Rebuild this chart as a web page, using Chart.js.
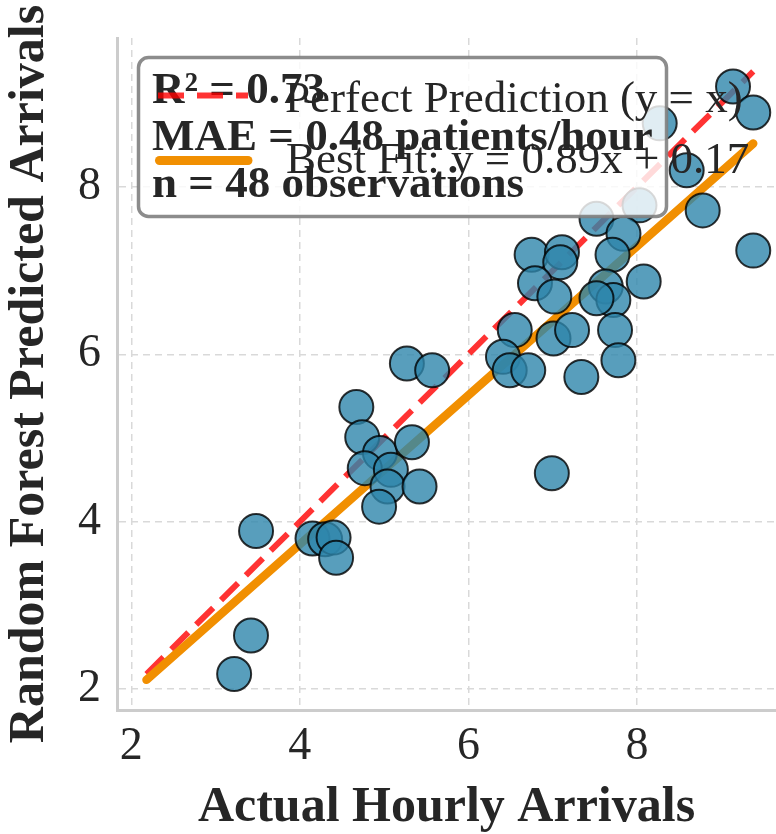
<!DOCTYPE html>
<html>
<head>
<meta charset="utf-8">
<script src="https://cdn.jsdelivr.net/npm/chart.js@4.4.1/dist/chart.umd.min.js"></script>
<style>
  html, body { margin: 0; padding: 0; background: #fff; overflow: hidden; }
  canvas { display: block; }
</style>
</head>
<body>
<canvas id="c" width="776" height="834"></canvas>
<script>
// ---- data ----
const actual = [3.48, 3.42, 3.22, 4.15, 4.30, 4.40, 4.43,
  5.27, 5.57, 4.67, 4.74, 4.95, 5.33, 4.77, 5.08, 5.04, 5.42, 4.94,
  6.75, 7.11, 7.09, 6.79, 7.02, 7.52, 8.03, 7.84, 7.71, 8.78,
  9.38, 8.08, 7.63, 7.72, 7.52, 6.55, 6.41, 6.49, 6.71, 7.01,
  7.23, 7.74, 7.78, 7.34, 8.59, 9.14, 9.38, 8.27, 6.99];
const predicted = [3.89, 2.64, 2.18, 3.80, 3.79, 3.81, 3.57,
  5.89, 5.81, 5.37, 5.01, 4.82, 4.95, 4.64, 4.62, 4.42, 4.42, 4.18,
  7.19, 7.22, 7.10, 6.85, 6.69, 7.62, 7.78, 7.44, 7.19, 7.72,
  7.24, 6.87, 6.81, 6.65, 6.67, 6.29, 5.97, 5.81, 5.81, 6.19,
  6.29, 6.29, 5.93, 5.73, 8.20, 9.20, 8.89, 8.76, 4.58];
const lineX = [2.18, 9.38];
const perfectY = [2.18, 9.38];
const fitY = [2.11, 8.52];
const xTicks = [2, 4, 6, 8];
const yTicks = [2, 4, 6, 8];
const legendLabels = ['Perfect Prediction (y = x)', 'Best Fit: y = 0.89x + 0.17'];
const statLines = ['R\u00b2 = 0.73', 'MAE = 0.48 patients/hour', 'n = 48 observations'];

const SERIF = '"Liberation Serif", "Times New Roman", serif';
const INK = '#262626';
const BLUE = 'rgba(46,134,171,0.8)';
const ORANGE = '#F18F01';
const RED = 'rgba(255,0,0,0.8)';

// stats box + legend drawn on top of the points (like the matplotlib text bbox)
const statsBox = {
  id: 'statsBox',
  afterDatasetsDraw(chart) {
    const ctx = chart.ctx;
    ctx.save();
    ctx.beginPath();
    ctx.roundRect(138.5, 57.5, 528, 159, 10);
    ctx.fillStyle = 'rgba(255,255,255,0.82)';
    ctx.fill();
    ctx.lineWidth = 3.5;
    ctx.strokeStyle = 'rgba(128,128,128,0.9)';
    ctx.stroke();

    ctx.fillStyle = INK;
    ctx.textAlign = 'left';
    ctx.textBaseline = 'alphabetic';
    ctx.font = 'bold 45px ' + SERIF;
    [103, 150, 197].forEach((y, i) => ctx.fillText(statLines[i], 152, y));

    // legend handles
    ctx.lineWidth = 6;
    ctx.strokeStyle = RED;
    ctx.setLineDash([26, 13]);
    ctx.lineCap = 'butt';
    ctx.beginPath(); ctx.moveTo(158, 95.5); ctx.lineTo(248, 95.5); ctx.stroke();
    ctx.setLineDash([]);
    ctx.lineWidth = 9;
    ctx.lineCap = 'round';
    ctx.strokeStyle = ORANGE;
    ctx.beginPath(); ctx.moveTo(159.5, 160.5); ctx.lineTo(248, 160.5); ctx.stroke();

    ctx.fillStyle = INK;
    ctx.font = '45px ' + SERIF;
    ctx.fillText(legendLabels[0], 285, 111.5);
    ctx.fillText(legendLabels[1], 286, 173);
    ctx.restore();
  }
};

const gridOpts = { color: '#d9d9d9', lineWidth: 1.5, drawTicks: false };

new Chart(document.getElementById('c'), {
  type: 'scatter',
  data: {
    datasets: [
      {
        label: 'Predictions',
        data: actual.map((x, i) => ({ x, y: predicted[i] })),
        backgroundColor: BLUE,
        borderColor: 'rgba(0,0,0,0.8)',
        borderWidth: 2,
        pointRadius: 17,
        pointHoverRadius: 17,
        clip: false,
        order: 0
      },
      {
        type: 'line',
        label: legendLabels[0],
        data: lineX.map((x, i) => ({ x, y: perfectY[i] })),
        borderColor: RED,
        borderWidth: 6,
        borderDash: [24, 11],
        pointRadius: 0,
        fill: false,
        order: 2
      },
      {
        type: 'line',
        label: legendLabels[1],
        data: lineX.map((x, i) => ({ x, y: fitY[i] })),
        borderColor: ORANGE,
        borderWidth: 8.5,
        borderCapStyle: 'round',
        pointRadius: 0,
        fill: false,
        order: 1
      }
    ]
  },
  options: {
    responsive: false,
    maintainAspectRatio: false,
    devicePixelRatio: 1,
    animation: false,
    layout: { autoPadding: false, padding: { top: 38, right: 0, left: 0, bottom: 0 } },
    plugins: { legend: { display: false }, tooltip: { enabled: false } },
    scales: {
      x: {
        type: 'linear',
        min: 1.83, max: 9.65,
        afterBuildTicks: s => { s.ticks = xTicks.map(v => ({ value: v })); },
        afterFit: s => { s.height = 124; s.paddingLeft = 0; s.paddingRight = 0; },
        grid: gridOpts,
        border: { color: '#cccccc', width: 3, dash: [7, 5] },
        ticks: { color: INK, font: { family: SERIF, size: 46 }, padding: 9 },
        title: { display: true, text: 'Actual Hourly Arrivals', color: INK,
                 font: { family: SERIF, size: 50, weight: 'bold' }, padding: { top: 0, bottom: -4 } }
      },
      y: {
        type: 'linear',
        min: 1.75, max: 9.78,
        afterBuildTicks: s => { s.ticks = yTicks.map(v => ({ value: v })); },
        afterFit: s => { s.width = 117; s.paddingTop = 0; s.paddingBottom = 0; },
        grid: gridOpts,
        border: { color: '#cccccc', width: 3, dash: [7, 5] },
        ticks: { color: INK, font: { family: SERIF, size: 46 }, padding: 16 },
        title: { display: true, text: 'Random Forest Predicted Arrivals', color: INK,
                 font: { family: SERIF, size: 50, weight: 'bold' }, padding: { top: 0, bottom: 0 } }
      }
    }
  },
  plugins: [statsBox]
});
</script>
</body>
</html>
